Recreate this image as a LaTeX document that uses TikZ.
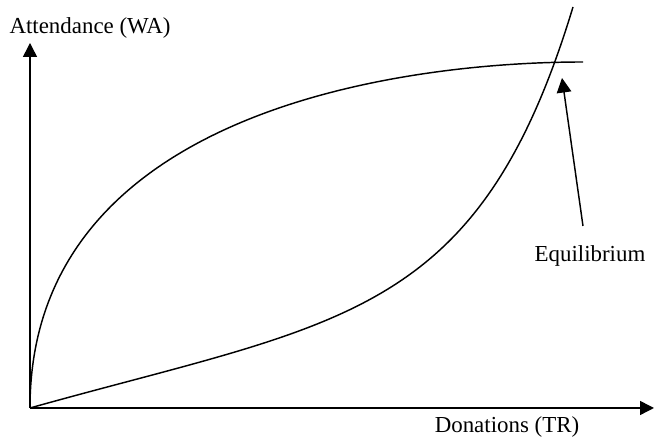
\documentclass[tikz,border=0pt]{standalone}
\usepackage{fontspec}
\setmainfont{Liberation Serif}
\usetikzlibrary{arrows.meta}

\begin{document}
\begin{tikzpicture}[
  x=0.55pt,y=0.55pt,
  axis/.style={-{Triangle[length=7.7pt,width=7.7pt]},line width=0.8pt},
  curve/.style={line width=0.8pt},
  lbl/.style={font=\fontsize{12.6}{15}\selectfont,inner sep=0pt},
  arr/.style={-{Triangle[length=8pt,width=8pt]},line width=0.8pt}
]
\useasboundingbox (0,0) rectangle (654,442);

\coordinate (o) at (30,34);
\coordinate (ytop) at (30,399);
\coordinate (xend) at (654,34);
\coordinate (waend) at (583,380);
\coordinate (trend) at (573,435);
\coordinate (eqpt) at (562,364);
\coordinate (eqfoot) at (583,216);

\node[lbl] (wa) at (90,414) {Attendance (WA)};
\node[lbl] (tr) at (507,15) {Donations (TR)};
\node[lbl] (eq) at (590,186) {Equilibrium};

\foreach \e in {ytop,xend}
  {\draw[axis] (o)--(\e);}

\draw[curve] (o) .. controls (30,334) and (408,380) .. (waend);
\draw[curve] (o) .. controls (340,120.8) and (478,121.5) .. (trend);

\draw[arr] (eqfoot)--(eqpt);

\end{tikzpicture}
\end{document}
